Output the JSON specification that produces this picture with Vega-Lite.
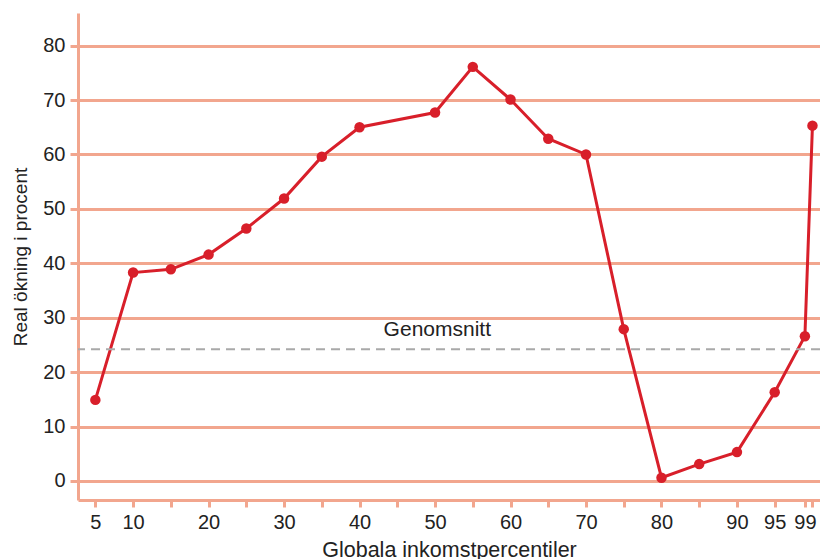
{
  "$schema": "https://vega.github.io/schema/vega-lite/v6.json",
  "width": 742,
  "height": 487,
  "autosize": {"type": "none"},
  "padding": {"left": 78, "top": 13, "right": 0, "bottom": 59},
  "background": "white",
  "config": {
    "view": {"stroke": null},
    "font": "Liberation Sans",
    "axis": {
      "labelFont": "Liberation Sans",
      "titleFont": "Liberation Sans",
      "labelColor": "#222222",
      "titleColor": "#222222",
      "titleFontWeight": "normal",
      "domainColor": "#f2a68e",
      "tickColor": "#f2a68e",
      "gridColor": "#f2a68e",
      "domainWidth": 3,
      "tickWidth": 3,
      "gridWidth": 3,
      "gridOpacity": 1,
      "labelFontSize": 20
    }
  },
  "resolve": {"axis": {"x": "independent"}},
  "layer": [
    {
      "data": {"values": [
        {"percentil": 5, "okning": 14.9},
        {"percentil": 10, "okning": 38.3},
        {"percentil": 15, "okning": 38.9},
        {"percentil": 20, "okning": 41.6},
        {"percentil": 25, "okning": 46.4},
        {"percentil": 30, "okning": 51.9},
        {"percentil": 35, "okning": 59.6},
        {"percentil": 40, "okning": 65.0},
        {"percentil": 50, "okning": 67.7},
        {"percentil": 55, "okning": 76.1},
        {"percentil": 60, "okning": 70.1},
        {"percentil": 65, "okning": 62.9},
        {"percentil": 70, "okning": 60.0},
        {"percentil": 75, "okning": 27.9},
        {"percentil": 80, "okning": 0.6},
        {"percentil": 85, "okning": 3.1},
        {"percentil": 90, "okning": 5.3},
        {"percentil": 95, "okning": 16.3},
        {"percentil": 99, "okning": 26.6},
        {"percentil": 100, "okning": 65.3}
      ]},
      "mark": {"type": "line", "color": "#d81f2a", "strokeWidth": 3, "point": {"filled": true, "size": 110, "color": "#d81f2a", "opacity": 1}},
      "encoding": {
        "x": {
          "field": "percentil",
          "type": "quantitative",
          "scale": {"domain": [2.7, 101], "nice": false, "zero": false},
          "axis": {
            "orient": "bottom",
            "title": "Globala inkomstpercentiler",
            "titleFontSize": 21.5,
            "titlePadding": 7,
            "values": [5, 10, 20, 30, 40, 50, 60, 70, 80, 90, 95, 99],
            "labelFontSize": 20,
            "labelPadding": 5,
            "labelOverlap": false,
            "labelFlush": false,
            "tickSize": 7,
            "grid": false
          }
        },
        "y": {
          "field": "okning",
          "type": "quantitative",
          "scale": {"domain": [-3.5, 86], "nice": false, "zero": false},
          "axis": {
            "title": "Real ökning i procent",
            "titleFontSize": 19,
            "titlePadding": 12,
            "values": [0, 10, 20, 30, 40, 50, 60, 70, 80],
            "labelFontSize": 20,
            "labelPadding": 5,
            "tickSize": 8,
            "grid": true
          }
        }
      }
    },
    {
      "data": {"values": [{"percentil": 50.3, "okning": 24.2, "ly": 27.7, "label": "Genomsnitt"}]},
      "mark": {"type": "rule", "color": "#a9a9a9", "strokeWidth": 2, "strokeDash": [9, 6]},
      "encoding": {
        "y": {"field": "okning", "type": "quantitative"}
      }
    },
    {
      "data": {"values": [{"percentil": 50.3, "okning": 24.2, "ly": 27.7, "label": "Genomsnitt"}]},
      "mark": {"type": "text", "fontSize": 21, "color": "#222222", "font": "Liberation Sans"},
      "encoding": {
        "x": {
          "field": "percentil",
          "type": "quantitative",
          "axis": {
            "orient": "bottom",
            "title": null,
            "labels": false,
            "domain": false,
            "grid": false,
            "tickSize": 7,
            "values": [15, 25, 35, 45, 55, 65, 75, 85, 100]
          }
        },
        "y": {"field": "ly", "type": "quantitative"},
        "text": {"field": "label"}
      }
    }
  ]
}
